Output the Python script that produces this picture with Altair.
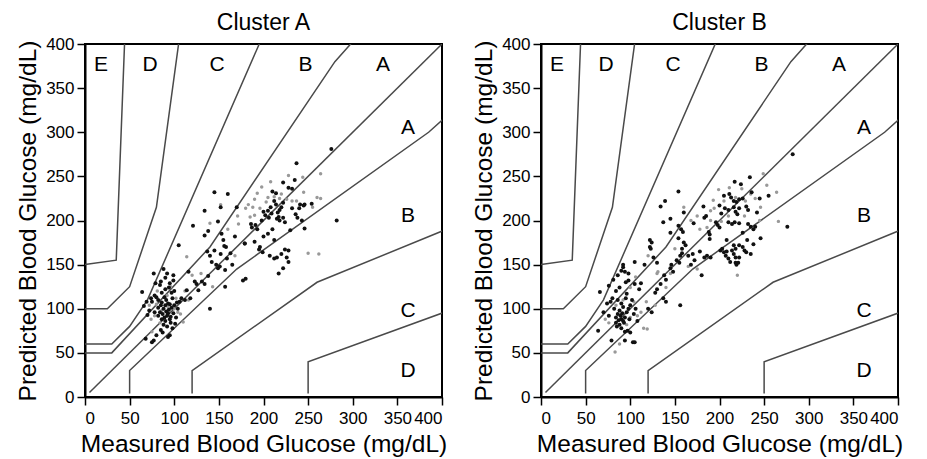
import altair as alt
import pandas as pd

FONT = "Liberation Sans"

# Parkes (consensus) error grid boundaries, type 1 diabetes (mg/dL)
boundaries = {
    "diag": [(5, 5), (400, 400)],
    "A_up": [(0, 50), (30, 50), (140, 170), (280, 380), (430, 550)],
    "B_up": [(0, 60), (30, 60), (50, 80), (70, 110), (260, 550)],
    "C_up": [(0, 100), (25, 100), (50, 125), (80, 215), (125, 550)],
    "D_up": [(0, 150), (35, 155), (50, 550)],
    "A_lo": [(50, 4), (50, 30), (170, 145), (385, 300), (550, 450)],
    "B_lo": [(120, 4), (120, 30), (260, 130), (550, 250)],
    "C_lo": [(250, 4), (250, 40), (550, 150)],
}

zone_labels = ["E", "D", "C", "B", "A", "A", "B", "C", "D"]
zone_x = [18, 73, 148, 247, 334, 362, 362, 362, 362]
zone_y = [376, 376, 376, 376, 376, 305, 205, 98, 30]

ticks = [0, 50, 100, 150, 200, 250, 300, 350, 400]

# Cluster A readings (measured, predicted)
a_black = [
    (64,119),(69,108),(75,108),(77,140),(79,129),(84,127),(92,140),(90,135),(99,138),(95,129),
    (90,122),(97,118),(86,118),(80,113),(82,110),(78,115),(85,104),(88,100),(91,97),(93,95),
    (87,94),(89,90),(92,92),(95,88),(90,86),(86,88),(94,99),(97,101),(100,104),(103,107),
    (99,95),(96,91),(88,82),(92,80),(85,76),(87,73),(93,68),(95,70),(75,62),(77,64),
    (68,66),(80,70),(84,96),(82,101),(98,112),(101,83),(104,100),(106,108),(108,112),(95,105),
    (91,110),(86,107),(90,104),(93,106),(78,96),(82,92),(100,120),(72,98),(66,103),(74,112),
    (96,84),(98,78),(102,90),(89,113),(85,131),(94,124),(88,145),(99,132),(70,93),
    (105,172),(116,142),(123,131),(125,128),(138,137),(137,165),(149,146),(151,148),(159,157),(157,144),
    (158,170),(127,121),(114,121),(157,125),(140,100),(145,232),(160,230),(134,211),(152,215),(170,215),
    (121,194),(149,199),(138,188),(134,183),(153,185),(155,178),(156,171),(168,182),(179,174),(190,176),
    (163,163),(140,160),(145,166),(152,162),(131,131),(134,128),(118,112),(112,110),(142,153),(165,150),
    (177,132),(180,134),(147,150),
    (276,281),(237,265),(222,243),(235,246),(232,236),(228,237),(210,233),(214,231),(212,222),(214,218),
    (218,212),(220,215),(222,220),(216,209),(208,215),(205,211),(209,208),(200,210),(202,206),(206,203),
    (215,202),(218,200),(217,204),(222,203),(224,198),(232,214),(236,207),(240,214),(246,218),(254,219),
    (241,218),(245,217),(246,191),(282,200),(187,192),(191,195),(193,190),(179,174),(195,167),(199,164),
    (196,170),(207,160),(212,157),(215,158),(220,162),(224,167),(228,166),(228,153),(222,146),(217,140),
    (226,158),(186,196),(205,185),(210,190),(200,182),(212,178),(230,189),(238,203),(243,200),(198,200),
]
a_gray = [
    (114,159),(116,110),(110,85),(120,138),(143,125),(152,218),(188,215),(180,214),(183,218),(185,204),
    (190,224),(205,226),(212,227),(218,225),(228,251),(244,249),(264,253),(264,225),(250,163),(262,162),
    (237,222),(232,222),(226,224),(198,238),(196,214),(190,206),(172,196),(160,190),(140,197),(80,105),
    (78,92),(74,88),(84,84),(100,100),(104,96),(107,94),(93,102),(86,98),(75,74),(112,120),
    (130,140),(168,160),(245,232),(255,215),(260,226),(220,230),(208,244),(193,231),(203,221),(171,205),
    (96,125),(81,120),(92,115),(72,104),(102,112),
]

# Cluster B readings (measured, predicted)
b_black = [
    (66,119),(64,75),(79,64),(94,64),(103,62),(81,133),(76,126),(92,150),(92,147),(94,142),
    (98,140),(90,143),(105,153),(84,120),(88,124),(95,130),(98,132),(105,128),(110,122),(112,129),
    (80,112),(78,108),(74,106),(86,110),(90,106),(92,102),(88,98),(86,94),(84,90),(90,88),
    (92,86),(94,90),(96,96),(98,100),(100,104),(102,110),(95,112),(88,82),(85,80),(90,78),
    (94,74),(97,75),(100,73),(84,84),(89,92),(91,95),(87,87),(93,84),(99,88),(104,94),
    (106,100),(108,86),(82,100),(70,96),(76,92),(96,117),(86,138),(122,170),(122,178),(105,62),
    (124,96),(120,100),(130,122),(128,118),(140,133),(145,146),(146,150),(152,155),(155,152),(158,163),
    (148,142),(138,138),(134,128),(140,108),(137,112),(156,104),(154,233),(139,222),(134,216),(145,202),
    (137,198),(160,209),(154,194),(157,190),(159,187),(145,186),(171,197),(124,175),(123,168),(154,180),
    (160,175),(158,168),(156,160),(162,172),(116,150),(126,158),(130,152),(165,160),(170,162),(178,165),
    (180,138),(168,150),(172,155),(188,187),(189,184),(189,179),
    (282,275),(234,249),(224,241),(217,244),(236,232),(255,228),(245,225),(182,216),(205,228),(211,230),
    (213,226),(216,222),(219,221),(222,224),(226,225),(216,215),(222,214),(218,210),(220,207),(232,212),
    (230,216),(242,209),(200,217),(206,214),(202,208),(210,212),(183,203),(185,205),(198,195),(200,192),
    (196,198),(210,198),(214,196),(217,198),(222,197),(232,196),(235,193),(240,193),(238,190),(246,180),
    (276,193),(216,172),(218,168),(222,172),(226,170),(228,166),(201,166),(205,164),(203,168),(208,165),
    (214,166),(216,162),(230,164),(235,162),(183,158),(186,160),(190,158),(207,160),(210,157),(218,158),
    (222,158),(221,152),(212,153),(219,150),(238,173),(218,152),(231,178),(226,186),(208,178),
]
b_gray = [
    (115,78),(119,77),(83,51),(130,140),(120,160),(131,142),(165,148),(175,145),(160,215),(168,200),
    (175,205),(186,192),(190,211),(193,223),(199,235),(211,237),(218,226),(229,222),(249,253),(264,232),
    (266,199),(246,215),(220,138),(245,200),(235,230),(225,236),(205,222),(190,200),(178,190),(150,168),
    (145,140),(108,92),(112,96),(104,108),(100,90),(96,82),(84,104),(76,84),(88,60),(72,88),
    (92,110),(118,108),(128,104),(140,124),(106,136),(100,124),(194,214),(210,205),(240,225),(253,240),
    (228,205),(202,199),
]

rows = []
for name, pts in boundaries.items():
    for i, (x, y) in enumerate(pts):
        rows.append({"line": name, "order": i, "x": x, "y": y})
lines_df = pd.DataFrame(rows)
labels_df = pd.DataFrame({"label": zone_labels, "x": zone_x, "y": zone_y})


def enc_x():
    return alt.X("x:Q", scale=alt.Scale(domain=[0, 400], nice=False, zero=False),
                 axis=alt.Axis(values=ticks, title="Measured Blood Glucose (mg/dL)",
                               labelOverlap=False, labelPadding=5))


def enc_y():
    return alt.Y("y:Q", scale=alt.Scale(domain=[0, 400], nice=False, zero=False),
                 axis=alt.Axis(values=ticks, title="Predicted Blood Glucose (mg/dL)",
                               labelOverlap=False))


def panel(title, black, gray):
    bdf = pd.DataFrame(black, columns=["x", "y"])
    gdf = pd.DataFrame(gray, columns=["x", "y"])
    lines = alt.Chart(lines_df).mark_line(clip=True, color="#4a4a4a", strokeWidth=1.5).encode(
        x=enc_x(), y=enc_y(), detail="line:N", order="order:Q")
    gpts = alt.Chart(gdf).mark_circle(color="#999999", opacity=1, size=12).encode(x=enc_x(), y=enc_y())
    kpts = alt.Chart(bdf).mark_circle(color="#111111", opacity=1, size=16).encode(x=enc_x(), y=enc_y())
    txt = alt.Chart(labels_df).mark_text(font=FONT, fontSize=21, color="black",
                                         align="center", baseline="middle").encode(
        x=enc_x(), y=enc_y(), text="label:N")
    return alt.layer(lines, gpts, kpts, txt).properties(
        width=357, height=353,
        title=alt.TitleParams(title, font=FONT, fontSize=23, fontWeight="normal", color="black", offset=0))


chart = alt.hconcat(
    panel("Cluster A", a_black, a_gray),
    panel("Cluster B", b_black, b_gray),
    spacing=22,
).properties(
    padding={"left": 14, "top": 11, "right": 5, "bottom": 0}
).configure_view(
    stroke="black", strokeWidth=2
).configure_axis(
    grid=False, domainColor="black", domainWidth=2, tickColor="black", tickWidth=1.5,
    tickSize=8, labelPadding=3, labelFont=FONT, labelFontSize=17, labelColor="black",
    titleFont=FONT, titleFontSize=24.5, titleFontWeight="normal", titleColor="black",
).configure_axisY(titlePadding=5).configure_axisX(titlePadding=6)

chart.save("out.html", embed_options={"renderer": "svg", "actions": False})
